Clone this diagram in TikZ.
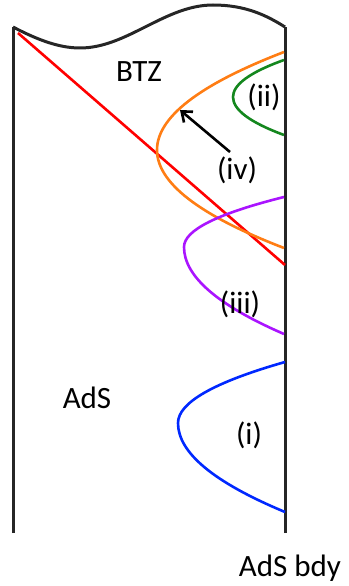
\documentclass[tikz,border=0pt]{standalone}
\usepackage{fontspec}
\setmainfont{Carlito}
\usetikzlibrary{arrows.meta}
\definecolor{cpurple}{RGB}{170,20,255}
\definecolor{cgreen}{RGB}{20,135,30}
\definecolor{corange}{RGB}{255,125,20}
\definecolor{cblue}{RGB}{0,40,255}
\definecolor{cred}{RGB}{255,0,0}
\begin{document}
\begin{tikzpicture}[x=1pt,y=-1pt,
  wall/.style={line width=3pt,black!85},
  curve/.style={line width=2.6pt},
  lbl/.style={inner sep=0pt,font=\fontsize{31}{36}\selectfont}]
\useasboundingbox (0,0) rectangle (348,586);
% walls
\coordinate (LT) at (13,27);
\coordinate (LB) at (13,533);
\coordinate (RT) at (285,27);
\coordinate (RB) at (285,533);
\draw[wall] (LB) -- (LT);
\draw[wall] (RB) -- (RT);
\draw[wall,line join=round] (LT) .. controls (36,39) and (58,48) .. (80,48)
  .. controls (127,48) and (165,5) .. (213,5)
  .. controls (245,5) and (266,15) .. (RT);
% red line
\coordinate (R1) at (18,33);
\coordinate (R2) at (285,265);
\draw[curve,cred] (R1) -- (R2);
% orange
\draw[curve,corange] (284,52) .. controls (199,84.7) and (157,117.3) .. (157,150)
  .. controls (157,182.7) and (199,215.3) .. (284,248);
% green
\draw[curve,cgreen] (284,60) .. controls (249.7,72.3) and (233,84.7) .. (233,97)
  .. controls (233,109.7) and (249.7,122.3) .. (284,135);
% purple
\draw[curve,cpurple] (284,197) .. controls (217,213.7) and (184,230.3) .. (184,247)
  .. controls (184,276) and (217,305) .. (284,334);
% blue
\draw[curve,cblue] (285,362) .. controls (213.7,382.3) and (178,402.7) .. (178,423)
  .. controls (178,452.7) and (213.7,482.3) .. (285,512);
% labels
\node[lbl] (btz) at (139,72) {BTZ};
\node[lbl] (ii) at (264,97) {(ii)};
\node[lbl] (iv) at (237,170) {(iv)};
\node[lbl] (iii) at (240,304) {(iii)};
\node[lbl] (i) at (249,435) {(i)};
\node[lbl] (ads) at (87,398) {AdS};
\node[lbl] (bdy) at (290,568) {AdS bdy};
% arrow
\coordinate (tip) at (180,110);
\draw[line width=2.6pt,-{Straight Barb[length=9pt,width=14pt]}] (230,152) -- (tip);
\end{tikzpicture}
\end{document}
